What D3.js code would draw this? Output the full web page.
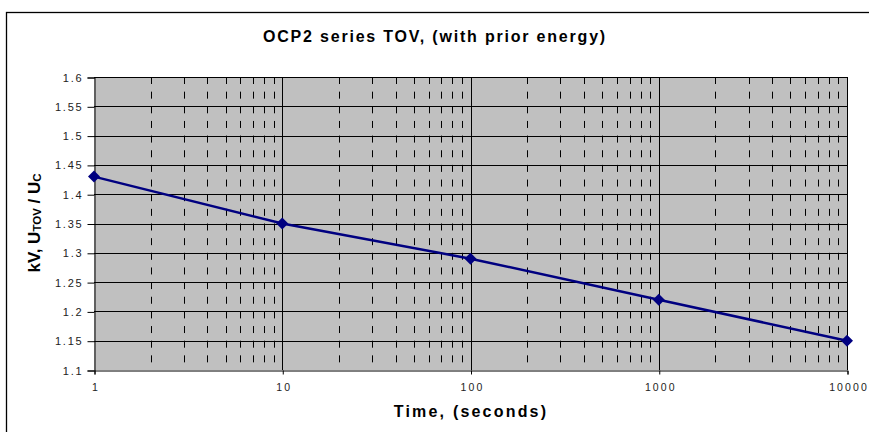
<!DOCTYPE html>
<html><head><meta charset="utf-8">
<script src="https://cdn.jsdelivr.net/npm/d3@7/dist/d3.min.js"></script>
<style>body{margin:0;background:#fff}svg{display:block;font-family:"Liberation Sans",Arial,sans-serif}</style>
</head><body>
<script>
const times = [1, 10, 100, 1000, 10000];
const values = [1.43, 1.35, 1.29, 1.22, 1.15];
const yTicks = [1.1, 1.15, 1.2, 1.25, 1.3, 1.35, 1.4, 1.45, 1.5, 1.55, 1.6];
const xTickLabels = ["1", "10", "100", "1000", "10000"];
const titleText = "OCP2 series TOV, (with prior energy)";
const xTitle = "Time, (seconds)";

const W = 869, H = 432;
const m = {left: 94, top: 77, right: 847, bottom: 370};
const svg = d3.select("body").append("svg").attr("width", W).attr("height", H);

svg.append("rect").attr("x", 6.5).attr("y", 12.5).attr("width", 900).attr("height", 500)
  .attr("fill", "#fff").attr("stroke", "#000").attr("stroke-width", 1.3);

const x = d3.scaleLog().domain([1, 10000]).range([m.left, m.right]);
const y = d3.scaleLinear().domain([1.1, 1.6]).range([m.bottom, m.top]);

svg.append("rect").attr("x", m.left).attr("y", m.top)
  .attr("width", m.right - m.left).attr("height", m.bottom - m.top).attr("fill", "#C0C0C0");

// minor dashed vertical gridlines
const minors = [];
for (let d = 1; d < 10000; d *= 10) for (let k = 2; k <= 9; k++) minors.push(d * k);
svg.append("g").selectAll("line").data(minors).join("line")
  .attr("x1", d => Math.round(x(d)) + 0.5).attr("x2", d => Math.round(x(d)) + 0.5)
  .attr("y1", m.top).attr("y2", m.bottom)
  .attr("stroke", "#000").attr("stroke-width", 1).attr("stroke-dasharray", "7,7.65");

// horizontal gridlines
svg.append("g").selectAll("line").data(yTicks.slice(1)).join("line")
  .attr("x1", m.left).attr("x2", m.right)
  .attr("y1", d => Math.round(y(d)) + 0.5).attr("y2", d => Math.round(y(d)) + 0.5)
  .attr("stroke", "#000").attr("stroke-width", 1);

// major vertical gridlines
svg.append("g").selectAll("line").data(times.slice(1)).join("line")
  .attr("x1", d => Math.round(x(d)) + 0.5).attr("x2", d => Math.round(x(d)) + 0.5)
  .attr("y1", m.top).attr("y2", m.bottom)
  .attr("stroke", "#000").attr("stroke-width", 1);

// axes
const yAxis = d3.axisLeft(y).tickValues(yTicks).tickSize(7).tickPadding(4)
  .tickFormat(d => String(+d.toFixed(2)));
const gy = svg.append("g").attr("transform", `translate(${m.left + 0.5},0.5)`).call(yAxis);
const xAxis = d3.axisBottom(x).tickValues(times).tickSize(4).tickPadding(9)
  .tickFormat((d, i) => xTickLabels[i]);
const gx = svg.append("g").attr("transform", `translate(0.5,${m.bottom + 0.5})`).call(xAxis);
[gx, gy].forEach(g => {
  g.select(".domain").attr("stroke", "#000");
  g.selectAll(".tick line").attr("stroke", "#000");
  g.selectAll("text").attr("fill", "#222")
    .attr("font-family", "'Liberation Sans',Arial,sans-serif");
});
gy.selectAll("text").attr("font-size", 11).attr("letter-spacing", 1.8);
gx.selectAll("text").attr("font-size", 10.5).attr("letter-spacing", 2.1).attr("dx", 1);

// line
const line = d3.line().x((d, i) => x(times[i])).y(d => y(d));
svg.append("path").datum(values).attr("d", line)
  .attr("fill", "none").attr("stroke", "#000080").attr("stroke-width", 2.5);
svg.append("g").selectAll("path").data(values).join("path")
  .attr("d", "M0,-6L6,0L0,6L-6,0Z")
  .attr("transform", (d, i) => `translate(${x(times[i])},${y(d)})`)
  .attr("fill", "#000080");

// titles
svg.append("text").attr("x", 435).attr("y", 41.5).attr("text-anchor", "middle")
  .attr("font-size", 16).attr("font-weight", "bold").attr("letter-spacing", 1.8)
  .text(titleText);
svg.append("text").attr("x", 471).attr("y", 417).attr("text-anchor", "middle")
  .attr("font-size", 16).attr("font-weight", "bold").attr("letter-spacing", 2.2)
  .text(xTitle);
const yl = svg.append("text").attr("transform", "translate(39.5,223) rotate(-90)")
  .attr("text-anchor", "middle").attr("font-size", 17).attr("font-weight", "bold");
yl.append("tspan").text("kV, U");
yl.append("tspan").attr("font-size", 11.5).attr("dy", 1).text("TOV");
yl.append("tspan").attr("dy", -1).text(" / U");
yl.append("tspan").attr("font-size", 11.5).attr("dy", 1).text("C");
</script>
</body></html>
